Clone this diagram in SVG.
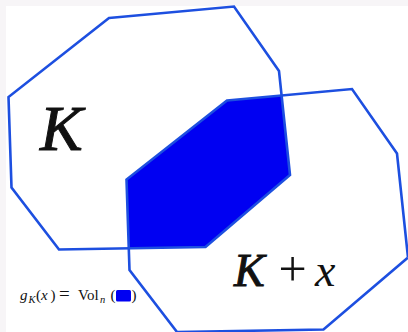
<svg xmlns="http://www.w3.org/2000/svg" width="408" height="332" viewBox="0 0 408 332">
  <style>
    .outline { fill: none; stroke: #1d4fe0; stroke-width: 2.6; stroke-linejoin: miter; }
    .serif { font-family: "Liberation Serif", "Times New Roman", serif; fill: #111; }
    .it { font-style: italic; }
    .heavy { stroke: #111; stroke-width: 1; }
  </style>
  <defs>
    <polygon id="Kshape" points="109,18 234,6.5 279,71 290,175 205.5,247 59,249.5 11.5,187.5 8.5,97"/>
    <clipPath id="clipK">
      <use href="#Kshape"/>
    </clipPath>
  </defs>
  <rect width="408" height="332" fill="#f7f5f7"/>
  <rect x="6" y="6" width="402" height="326" fill="#ffffff"/>

  <g id="intersection" clip-path="url(#clipK)">
    <use href="#Kshape" transform="translate(118,82.5)" fill="#0000f2"/>
  </g>
  <g id="K">
    <use href="#Kshape" class="outline"/>
    <text class="serif it heavy" x="40" y="150" font-size="64">K</text>
  </g>
  <g id="Kplusx">
    <use href="#Kshape" class="outline" transform="translate(118,82.5)"/>
    <text class="serif it heavy" x="234" y="286" font-size="46" stroke-width="0.8">K</text>
    <text class="serif" x="292.5" y="286" font-size="50" text-anchor="middle">+</text>
    <text class="serif it" x="315" y="286" font-size="46">x</text>
  </g>
  <g id="legend">
    <text class="serif" y="300" font-size="15">
      <tspan class="it" x="20">g</tspan><tspan class="it" x="28.5" y="303" font-size="10.5">K</tspan><tspan x="36" y="300">(</tspan><tspan class="it" x="41">x</tspan><tspan x="50.5">)</tspan><tspan x="59" font-size="19">=</tspan><tspan x="78">Vol</tspan><tspan class="it" x="100" y="303" font-size="10.5">n</tspan><tspan x="110.5" y="300">(</tspan><tspan x="131.5">)</tspan>
    </text>
    <rect x="116" y="290" width="15" height="11.5" rx="1.5" fill="#0000f2"/>
  </g>
</svg>
